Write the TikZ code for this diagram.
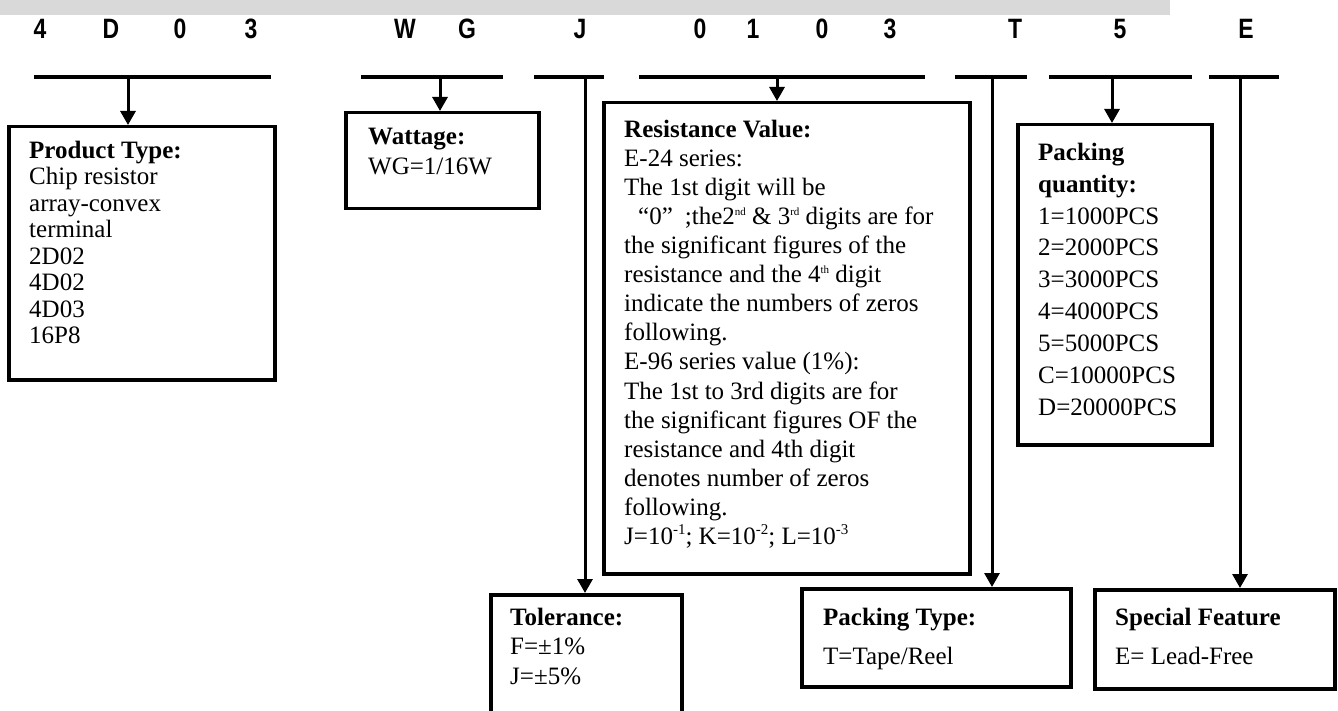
\documentclass[tikz,border=0pt]{standalone}
\usepackage{fontspec}
\setmainfont{Liberation Serif}
\newfontfamily\codefont[FakeStretch=0.82]{Liberation Sans}
\usetikzlibrary{arrows.meta}
\definecolor{bandgray}{RGB}{217,217,217}
\newcommand\bxfont[1]{\fontsize{25}{#1}\selectfont}
\newcommand\supr[1]{\raisebox{9pt}{\fontsize{11}{11}\selectfont #1}}
\newcommand\expo[1]{\raisebox{10pt}{\fontsize{15}{15}\selectfont #1}}
\begin{document}
\begin{tikzpicture}[x=1pt,y=-1pt,
  bar/.style={line width=3.8pt},
  conn/.style={line width=3pt,-{Triangle[width=15pt,length=14pt]}},
  box/.style={draw,line width=3.5pt,inner sep=0pt,anchor=north west},
  txt/.style={anchor=north west,inner sep=0pt,align=left},
  code/.style={font=\codefont\bfseries\fontsize{28}{28}\selectfont,inner sep=0pt}]
\path[use as bounding box] (0,0) rectangle (1338,711);
\clip (0,0) rectangle (1338,711);
% banner
\fill[bandgray] (0,0) rectangle (1170,15);
% code letters
\foreach \ch/\xx [count=\i] in {4/40,D/111,0/180,3/251,W/405,G/467,J/580,0/700,1/753,0/822,3/890,T/1015,5/1120,E/1246}
  \node[code] (l\i) at (\xx,29) {\ch};
% bars
\draw[bar] (34,77) -- (271,77);
\draw[bar] (361,77) -- (503,77);
\draw[bar] (534,77) -- (604,77);
\draw[bar] (639,77) -- (925,77);
\draw[bar] (955,77) -- (1027,77);
\draw[bar] (1049,77) -- (1192,77);
\draw[bar] (1209,77) -- (1279,77);
\coordinate (b1) at (128,77);
\coordinate (b2) at (440,77);
\coordinate (b3) at (585,77);
\coordinate (b4) at (777,77);
\coordinate (b5) at (992,77);
\coordinate (b6) at (1112,77);
\coordinate (b7) at (1240,77);
% boxes
\node[box,minimum width=266pt,minimum height=253pt] (prod) at (7,125) {};
\node[box,minimum width=193pt,minimum height=96pt] (watt) at (344,111) {};
\node[box,minimum width=191pt,minimum height=132pt] (tol) at (489,593) {};
\node[box,minimum width=366pt,minimum height=471pt] (res) at (602,101) {};
\node[box,minimum width=269pt,minimum height=98pt] (ptype) at (800,587) {};
\node[box,minimum width=194pt,minimum height=320pt] (pqty) at (1016,123) {};
\node[box,minimum width=240pt,minimum height=99pt] (spec) at (1093,588) {};
% connectors
\draw[conn] (b1) -- (b1 |- prod.north);
\draw[conn] (b2) -- (b2 |- watt.north);
\draw[conn] (b3) -- (b3 |- tol.north);
\draw[conn] (b4) -- (b4 |- res.north);
\draw[conn] (b5) -- (b5 |- ptype.north);
\draw[conn] (b6) -- (b6 |- pqty.north);
\draw[conn] (b7) -- (b7 |- spec.north);
% texts
\node[txt,font=\bxfont{26.5}] (prodt) at (29,139.5) {\strut\textbf{Product Type:}\\Chip resistor\\array-convex\\terminal\\2D02\\4D02\\4D03\\16P8};
\node[txt,font=\bxfont{30}] (wattt) at (368,123) {\strut\textbf{Wattage:}\\WG=1/16W};
\node[txt,font=\bxfont{29.1}] (rest) at (624,116.6) {\strut\textbf{Resistance Value:}\\
E-24 series:\\
The 1st digit will be\\
\hspace*{14pt}“0”\hspace{12pt};the2\supr{nd} \& 3\supr{rd} digits are for\\
the significant figures of the\\
resistance and the 4\supr{th} digit\\
indicate the numbers of zeros\\
following.\\
E-96 series value (1\%):\\
The 1st to 3rd digits are for\\
the significant figures OF the\\
resistance and 4th digit\\
denotes number of zeros\\
following.\\
J=10\expo{-1}; K=10\expo{-2}; L=10\expo{-3}};
\node[txt,font=\bxfont{31.9}] (pqtyt) at (1038,137.7) {\strut\textbf{Packing}\\\textbf{quantity:}\\1=1000PCS\\2=2000PCS\\3=3000PCS\\4=4000PCS\\5=5000PCS\\C=10000PCS\\D=20000PCS};
\node[txt,font=\bxfont{29.5}] (tolt) at (510,604.4) {\strut\textbf{Tolerance:}\\F=±1\%\\J=±5\%};
\node[txt,font=\bxfont{39}] (ptypet) at (823,597.7) {\strut\textbf{Packing Type:}\\T=Tape/Reel};
\node[txt,font=\bxfont{39}] (spect) at (1115,597.7) {\strut\textbf{Special Feature}\\E= Lead-Free};
\end{tikzpicture}
\end{document}
